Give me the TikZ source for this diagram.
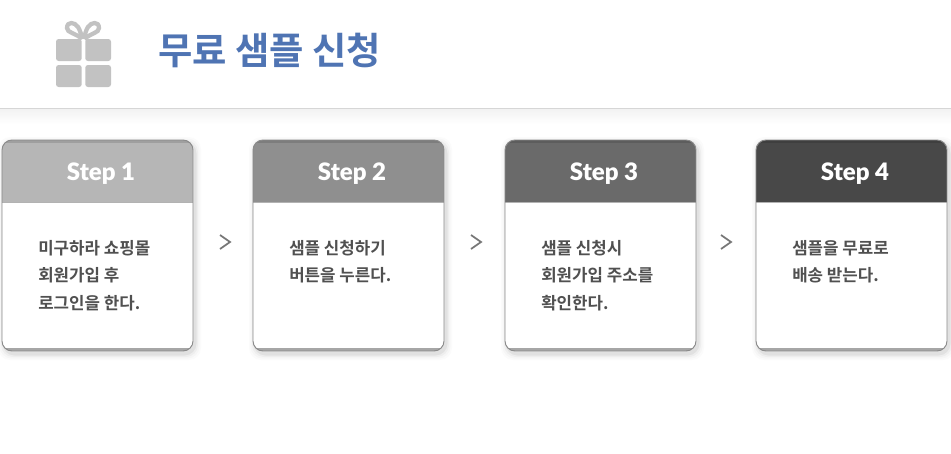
\documentclass[tikz,border=0pt]{standalone}
\usepackage{fontspec}
\setmainfont{Noto Sans CJK KR}
\newfontfamily\titlefont{Noto Sans CJK KR Bold}
\newfontfamily\bodyfont{Noto Sans CJK KR Bold}
\newfontfamily\stepfont{Lato Black}
\usetikzlibrary{calc}
\definecolor{titleblue}{HTML}{4F74B3}
\definecolor{giftgray}{HTML}{C2C2C2}
\definecolor{bodytext}{HTML}{505050}
\definecolor{chevgray}{HTML}{777777}
\definecolor{rulegray}{HTML}{D6D6D6}
\definecolor{cardedge}{HTML}{8A8A8A}
\definecolor{stepa}{HTML}{B6B6B6}
\definecolor{stepb}{HTML}{8F8F8F}
\definecolor{stepc}{HTML}{6A6A6A}
\definecolor{stepd}{HTML}{484848}
\tikzset{
  x=0.75pt,y=-0.75pt,
  titletext/.style={font=\titlefont\fontsize{28}{32}\selectfont,text=titleblue,anchor=west,inner sep=0pt},
  bodynote/.style={font=\bodyfont\fontsize{12.6}{20.6}\selectfont,text=bodytext,anchor=north west,align=left,inner sep=0pt},
  steplabel/.style={font=\stepfont\fontsize{18}{20}\selectfont,text=white,inner sep=0pt},
  chevron/.style={draw=chevgray,line width=1.3pt,line join=miter},
  giftpart/.style={fill=giftgray,draw=none},
}
% #1 name, #2 left x, #3 colour, #4 step label, #5 body
\newcommand{\stepcard}[5]{%
  \foreach \s/\o in {6/.015,4.5/.02,3/.03,1.5/.05}{
    \fill[black,opacity=\o,rounded corners=12*0.75pt]
      ($(#2,140)+(-\s+2,-\s+3)$) rectangle ($(#2+191,351)+(\s+2,\s+3)$);
  }
  \fill[white,rounded corners=10*0.75pt] (#2,140) rectangle (#2+191,351);
  \begin{scope}
    \clip[rounded corners=10*0.75pt] (#2,140) rectangle (#2+191,351);
    \fill[#3] (#2,140) rectangle (#2+191,202);
    \fill[black,opacity=.12] (#2,140) rectangle (#2+191,143);
    \draw[black!30,line width=.5pt] (#2,202.5) -- (#2+191,202.5);
    \fill[black!35] (#2,347.5) rectangle (#2+191,351);
  \end{scope}
  \draw[cardedge,line width=.7pt,rounded corners=10*0.75pt] (#2,140) rectangle (#2+191,351);
  \node[steplabel] (#1head) at (#2+99,174) {#4};
  \node[bodynote] (#1body) at (#2+36,240) {#5};
}
\begin{document}
\begin{tikzpicture}
\useasboundingbox (0,0) rectangle (951,454);
\fill[white] (0,0) rectangle (951,454);
% header rule with soft shadow
\shade[top color=black!5,bottom color=white] (0,109) rectangle (951,124);
\draw[rulegray,line width=.8pt] (0,108.5) -- (951,108.5);
% gift icon
\fill[giftpart,rounded corners=2pt] (56,61) -- (56,39) -- (81.7,39) -- (81.7,61) -- cycle;
\fill[giftpart,rounded corners=2pt] (85.3,61) -- (85.3,39) -- (111,39) -- (111,61) -- cycle;
\fill[giftpart,rounded corners=2pt] (56,65) -- (56,87) -- (81.7,87) -- (81.7,65) -- cycle;
\fill[giftpart,rounded corners=2pt] (85.3,65) -- (85.3,87) -- (111,87) -- (111,65) -- cycle;
\draw[giftgray,line width=3.2pt] (82,39) .. controls (76,33) and (67,33) .. (67,28) .. controls (67,21) and (75,22) .. (78,27) .. controls (80,30) and (81,34) .. (82.5,39);
\draw[giftgray,line width=3.2pt] (84.5,39) .. controls (91,33) and (99,33) .. (99,28) .. controls (99,21) and (91,22) .. (88,27) .. controls (86,30) and (85,34) .. (84,39);
\node[titletext] (title) at (158,50) {무료 샘플 신청};
% cards
\stepcard{one}{2}{stepa}{Step 1}{미구하라 쇼핑몰\\회원가입 후\\로그인을 한다.}
\stepcard{two}{253}{stepb}{Step 2}{샘플 신청하기\\버튼을 누른다.}
\stepcard{three}{505}{stepc}{Step 3}{샘플 신청시\\회원가입 주소를\\확인한다.}
\stepcard{four}{756}{stepd}{Step 4}{샘플을 무료로\\배송 받는다.}
% chevrons
\foreach \cx in {225,476,726}{
  \draw[chevron] (\cx-5,235) -- (\cx+5,242) -- (\cx-5,249);
}
\end{tikzpicture}
\end{document}
